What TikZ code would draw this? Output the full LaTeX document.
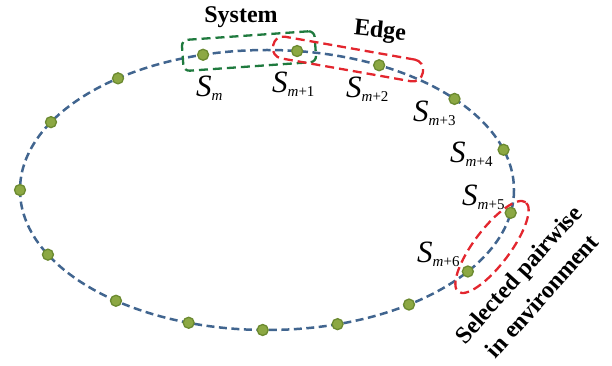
\documentclass[tikz,border=0pt]{standalone}
\usepackage{fontspec}
\setmainfont{Liberation Serif}
\usepackage{xcolor}
\usepackage{tikz}
\usetikzlibrary{shapes.geometric}
\definecolor{ringblue}{HTML}{41658F}
\definecolor{dotgreen}{HTML}{8CA843}
\definecolor{dotedge}{HTML}{6B8A30}
\definecolor{sysgreen}{HTML}{1F7A3E}
\definecolor{edgered}{HTML}{E3262E}
\newcommand{\slab}[1]{{\fontsize{31}{31}\selectfont\itshape S}\raisebox{-4pt}{\fontsize{15}{15}\selectfont\itshape m\upshape#1}}

\begin{document}
\begin{tikzpicture}[
  x=1pt, y=-1pt,
  ring/.style={draw=ringblue, line width=2.5pt, dash pattern=on 8pt off 4.5pt},
  dot/.style={circle, fill=dotgreen, draw=dotedge, line width=1.3pt,
              minimum size=11pt, inner sep=0pt},
  slabel/.style={anchor=base west, inner sep=0pt},
  title/.style={font=\fontsize{24}{32}\selectfont\bfseries, inner sep=0pt},
  groupbox/.style={dashed, line width=2.3pt, dash pattern=on 9pt off 5pt}
]
\useasboundingbox (0,0) rectangle (612,366);

% the ring of subsystems
\draw[ring] (267,190) ellipse [x radius=247, y radius=140];
\foreach \t [count=\i] in {-105,-83,-63,-40.6,-16.7,9.4,35.6,54.9,73.4,91,108.5,127.7,152.5,180,209,232.9}
  \node[dot] (d\i) at ({267+247*cos(\t)},{190+140*sin(\t)}) {};

\node[slabel] (sm)  at (196,97)  {\slab{}};
\node[slabel] (sm1) at (272,93)  {\slab{+1}};
\node[slabel] (sm2) at (346,98)  {\slab{+2}};
\node[slabel] (sm3) at (413,122) {\slab{+3}};
\node[slabel] (sm4) at (450,162) {\slab{+4}};
\node[slabel] (sm5) at (462,205) {\slab{+5}};
\node[slabel] (sm6) at (417,262) {\slab{+6}};

% system, edge and the selected pair
\node[groupbox, draw=sysgreen, rounded corners=6pt, minimum width=133pt,
      minimum height=31pt, rotate=4] (sysbox) at (249,51) {};
\node[groupbox, draw=edgered, rounded corners=10pt, minimum width=152pt,
      minimum height=22pt, rotate=-10] (edgebox) at (348,59) {};
\node[groupbox, draw=edgered, ellipse, minimum width=112pt,
      minimum height=36pt, rotate=53] (pairbox) at (492,247) {};

\node[title] (system) at (241,17) {System};
\node[title, rotate=-6] (edge) at (380,32) {Edge};
\node[title, align=center, rotate=48] (pairwise) at (530,285)
  {Selected pairwise\\in environment};
\end{tikzpicture}
\end{document}
